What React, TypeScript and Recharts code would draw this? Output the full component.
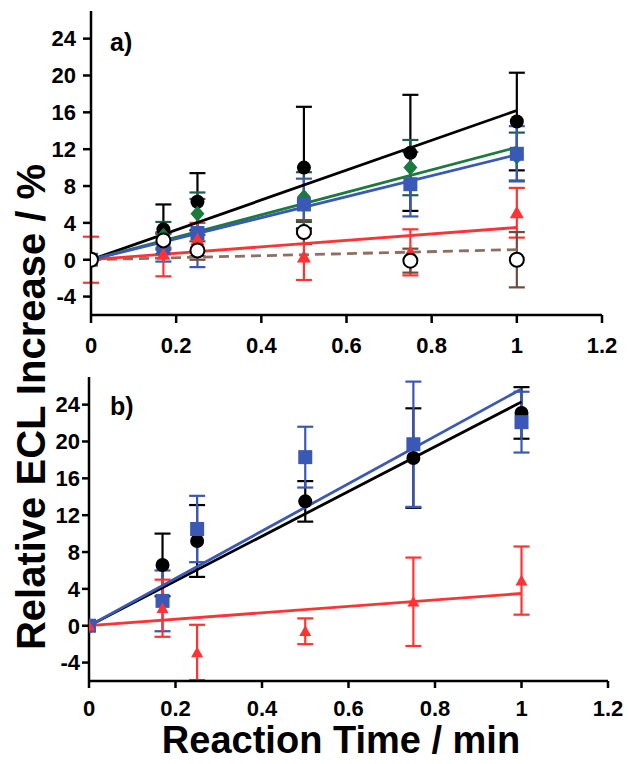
import React from "react";
import { ComposedChart, Scatter, XAxis, YAxis, ErrorBar } from "recharts";

// reaction times (min)
const times = [0, 0.17, 0.25, 0.5, 0.75, 1];
const xTicks = [0, 0.2, 0.4, 0.6, 0.8, 1, 1.2];
const yTicks = [-4, 0, 4, 8, 12, 16, 20, 24];
const fitX = [0, 1];

// panel a) values (%)
const aBlack = [0, 3.3, 6.3, 10.0, 11.6, 15.0];
const aBlackErr = [0, 2.7, 3.1, 6.6, 6.3, 5.3];
const aGreen = [0, 2.6, 5.0, 6.8, 10.0, 11.2];
const aGreenErr = [0, 1.5, 2.3, 2.7, 3.0, 2.6];
const aBlue = [0, 1.3, 2.9, 6.0, 8.2, 11.5];
const aBlueErr = [0, 1.5, 3.7, 2.8, 3.5, 3.0];
const aRed = [0, 0.6, 2.2, 0.3, 0.8, 5.1];
const aRedErr = [2.5, 2.4, 1.8, 2.5, 2.5, 2.7];
const aOpen = [0, 2.1, 1.0, 3.0, -0.1, 0.0];
const aOpenErr = [0, 0.8, 1.0, 1.3, 1.3, 3.0];
const aFitBlack = [0, 16.2];
const aFitGreen = [0, 12.2];
const aFitBlue = [0, 11.4];
const aFitRed = [0, 3.5];
const aFitOpen = [0, 1.1];

// panel b) values (%)
const bBlack = [0, 6.6, 9.2, 13.5, 18.2, 23.1];
const bBlackErr = [0, 3.4, 3.9, 2.2, 5.4, 2.8];
const bBlue = [0, 2.7, 10.5, 18.3, 19.7, 22.1];
const bBlueErr = [0, 3.3, 3.6, 3.3, 6.8, 3.3];
const bRed = [0, 1.9, -2.9, -0.6, 2.6, 4.9];
const bRedErr = [0, 3.1, 3.0, 1.4, 4.8, 3.7];
const bFitBlack = [0, 24.3];
const bFitBlue = [0, 25.7];
const bFitRed = [0, 3.5];

const BLACK = "#000000";
const GREEN = "#1b7a3e";
const GREEN_ERR = "#1f5e4c";
const BLUE = "#3a58b5";
const RED = "#ff3333";
const BROWN = "#6e4c3e";
const DASH = "#8c7062";
const FONT = "'Liberation Sans', Arial, sans-serif";

const pts = (ys: number[], errs?: number[]) =>
  times.map((x, i) => ({ x, y: ys[i], e: errs ? errs[i] : 0 }));
const fit = (ys: number[]) => fitX.map((x, i) => ({ x, y: ys[i] }));

const circle = (fill: string, stroke?: string) => (p: any) =>
  <circle cx={p.cx} cy={p.cy} r={7} fill={fill} stroke={stroke ?? "none"} strokeWidth={2} />;
const square = (fill: string) => (p: any) =>
  <rect x={p.cx - 7} y={p.cy - 7} width={14} height={14} fill={fill} />;
const diamond = (fill: string) => (p: any) =>
  <polygon points={`${p.cx},${p.cy - 8} ${p.cx + 7},${p.cy} ${p.cx},${p.cy + 8} ${p.cx - 7},${p.cy}`} fill={fill} />;
const triangle = (fill: string, s = 7) => (p: any) =>
  <polygon points={`${p.cx},${p.cy - s} ${p.cx + s},${p.cy + s * 0.8} ${p.cx - s},${p.cy + s * 0.8}`} fill={fill} />;
const noShape = () => <g />;

const tickStyle = { fill: "#000", fontSize: 22, fontWeight: "bold", fontFamily: FONT };
const axisLine = { stroke: "#000", strokeWidth: 2.5 };

function series(data: any[], errColor: string, shape: any) {
  return (
    <Scatter data={data} shape={shape} isAnimationActive={false}>
      <ErrorBar dataKey="e" direction="y" width={8} stroke={errColor} strokeWidth={2.2} />
    </Scatter>
  );
}

function fitLine(data: any[], color: string, dash?: string) {
  return (
    <Scatter
      data={data}
      shape={noShape}
      line={{ stroke: color, strokeWidth: 2.8, strokeDasharray: dash }}
      isAnimationActive={false}
    />
  );
}

function axes(yw: number, ts: number, ym: number, xm: number, xh: number) {
  return [
    <XAxis key="x" dataKey="x" type="number" domain={[0, 1.2]} ticks={xTicks} interval={0}
      tick={tickStyle} tickSize={ts} tickMargin={xm} axisLine={axisLine}
      tickLine={{ stroke: "#000", strokeWidth: 2.5 }} height={xh} allowDataOverflow />,
    <YAxis key="y" dataKey="y" type="number" domain={[-6, 27]} ticks={yTicks} interval={0}
      tick={tickStyle} tickSize={ts} tickMargin={ym} axisLine={axisLine}
      tickLine={{ stroke: "#000", strokeWidth: 2.5 }} width={yw} allowDataOverflow />,
    <XAxis key="xt" xAxisId="t" orientation="top" type="number" domain={[0, 1]} tick={false}
      tickLine={false} height={0} axisLine={axisLine} />,
    <YAxis key="yr" yAxisId="r" orientation="right" type="number" domain={[0, 1]} tick={false}
      tickLine={false} width={0} axisLine={axisLine} />,
  ];
}

export default function App() {
  return (
    <div style={{ position: "absolute", left: 0, top: 0, width: 629, height: 764, background: "#fff" }}>
      <div style={{ position: "absolute", left: 0, top: 0 }}>
        <ComposedChart width={629} height={365} margin={{ top: 11, right: 27, left: 0, bottom: 10 }}>
          {axes(91, 8, 7, 14, 40)}
          {fitLine(fit(aFitOpen), DASH, "10 6")}
          {fitLine(fit(aFitRed), RED)}
          {fitLine(fit(aFitBlack), BLACK)}
          {fitLine(fit(aFitGreen), GREEN)}
          {fitLine(fit(aFitBlue), BLUE)}
          {series(pts(aBlack, aBlackErr), BLACK, circle(BLACK))}
          {series(pts(aGreen, aGreenErr), GREEN_ERR, diamond(GREEN))}
          {series(pts(aBlue, aBlueErr), BLUE, square(BLUE))}
          {series(pts(aRed, aRedErr), RED, triangle(RED))}
          {series(pts(aOpen, aOpenErr), BROWN, circle("#fff", "#000"))}
        </ComposedChart>
      </div>
      <div style={{ position: "absolute", left: 0, top: 360 }}>
        <ComposedChart width={629} height={360} margin={{ top: 17, right: 21, left: 0, bottom: 4 }}>
          {axes(89, 7, 2, 12, 35)}
          {fitLine(fit(bFitRed), RED)}
          {fitLine(fit(bFitBlack), BLACK)}
          {fitLine(fit(bFitBlue), BLUE)}
          {series(pts(bBlack, bBlackErr), BLACK, circle(BLACK))}
          {series(pts(bBlue, bBlueErr), BLUE, square(BLUE))}
          {series(pts(bRed, bRedErr), RED, triangle(RED, 6))}
        </ComposedChart>
      </div>
      <svg width={629} height={764} style={{ position: "absolute", left: 0, top: 0, pointerEvents: "none" }}>
        <text x={110} y={51} fontSize={25} fontWeight="bold" fontFamily={FONT}>a)</text>
        <text x={110} y={415} fontSize={25} fontWeight="bold" fontFamily={FONT}>b)</text>
        <text x={45} y={407} transform="rotate(-90 45 407)" textAnchor="middle" fontSize={40}
          fontWeight="bold" fontFamily={FONT}>Relative ECL Increase / %</text>
        <text x={341} y={753} textAnchor="middle" fontSize={38} fontWeight="bold" fontFamily={FONT}>
          Reaction Time / min
        </text>
      </svg>
    </div>
  );
}
